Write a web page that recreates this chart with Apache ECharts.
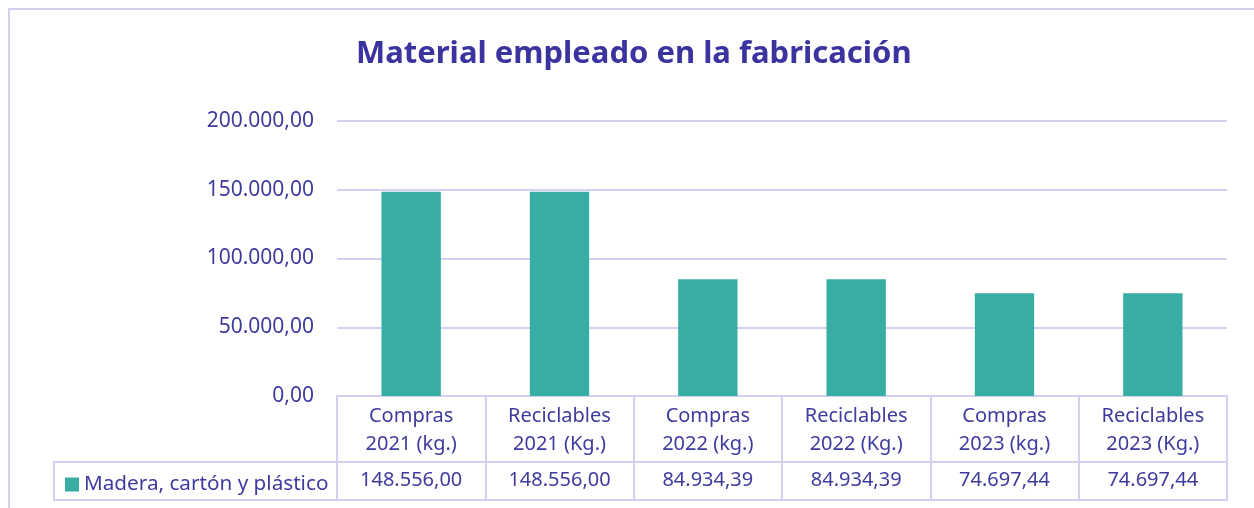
<!DOCTYPE html>
<html lang="es">
<head>
    <meta charset="UTF-8">
    <title>Material empleado en la fabricación</title>
    <script src="https://cdn.jsdelivr.net/npm/echarts@6/dist/echarts.min.js"></script>
    <style>
        html, body { margin: 0; padding: 0; background: #fff; }
        #chart { width: 1254px; height: 508px; }
    </style>
</head>
<body>
    <div id="chart"></div>
    <script>
        // datos del gráfico
        const categories = [
            'Compras\n2021 (kg.)', 'Reciclables\n2021 (Kg.)',
            'Compras\n2022 (kg.)', 'Reciclables\n2022 (Kg.)',
            'Compras\n2023 (kg.)', 'Reciclables\n2023 (Kg.)'
        ];
        const seriesName = 'Madera, cartón y plástico';
        const values = [148556.00, 148556.00, 84934.39, 84934.39, 74697.44, 74697.44];
        const yTicks = [0, 50000, 100000, 150000, 200000];

        const textColor = '#3f3a9e';
        const lineColor = '#d3d0f1';
        const font = 'Noto Sans';

        // formato 148.556,00
        function fmt(v) {
            const parts = v.toFixed(2).split('.');
            const int = parts[0].replace(/\B(?=(\d{3})+(?!\d))/g, '.');
            return int + ',' + parts[1];
        }

        const chart = echarts.init(document.getElementById('chart'));

        const option = {
            animation: false,
            textStyle: { fontFamily: font },
            title: {
                text: 'Material empleado en la fabricación',
                left: 351,
                top: 34,
                textStyle: { color: '#3b34a0', fontSize: 31, fontWeight: 'bold', fontFamily: font }
            },
            legend: {
                data: [seriesName],
                left: 60,
                top: 469,
                itemWidth: 14,
                itemHeight: 14,
                itemGap: 6,
                icon: 'rect',
                textStyle: { color: textColor, fontSize: 20.7, fontFamily: font }
            },
            grid: { left: 337, right: 27, top: 121, bottom: 112 },
            xAxis: [
                {
                    type: 'category',
                    data: categories,
                    axisLine: { show: true, lineStyle: { color: lineColor, width: 2 } },
                    axisTick: { show: true, length: 104, lineStyle: { color: lineColor, width: 2 } },
                    axisLabel: { color: textColor, fontSize: 20, lineHeight: 28, margin: 6, fontFamily: font }
                },
                {
                    type: 'category',
                    data: categories,
                    position: 'bottom',
                    offset: 66,
                    axisLine: { show: true, lineStyle: { color: lineColor, width: 2 } },
                    axisTick: { show: false },
                    axisLabel: {
                        color: textColor, fontSize: 20, margin: 8, fontFamily: font,
                        formatter: (v, i) => fmt(values[i])
                    }
                },
                {
                    type: 'category',
                    data: categories,
                    position: 'bottom',
                    offset: 104,
                    axisLine: { show: true, lineStyle: { color: lineColor, width: 2 } },
                    axisTick: { show: false },
                    axisLabel: { show: false }
                }
            ],
            yAxis: {
                type: 'value',
                min: yTicks[0],
                max: yTicks[yTicks.length - 1],
                interval: 50000,
                axisLine: { show: false },
                axisTick: { show: false },
                splitLine: { lineStyle: { color: lineColor, width: 2 } },
                axisLabel: { color: textColor, fontSize: 21, margin: 23, fontFamily: font, formatter: fmt }
            },
            series: [
                {
                    name: seriesName,
                    type: 'bar',
                    data: values,
                    barWidth: '40%',
                    itemStyle: { color: '#37ada3' }
                }
            ],
            graphic: [
                // borde exterior
                {
                    type: 'rect', silent: true, z: -1,
                    shape: { x: 9, y: 9, width: 1270, height: 530 },
                    style: { fill: 'none', stroke: lineColor, lineWidth: 2 }
                },
                // celda de leyenda de la tabla
                {
                    type: 'rect', silent: true,
                    shape: { x: 54, y: 462, width: 283, height: 38 },
                    style: { fill: 'none', stroke: lineColor, lineWidth: 2 }
                }
            ]
        };
        chart.setOption(option);
    </script>
</body>
</html>
